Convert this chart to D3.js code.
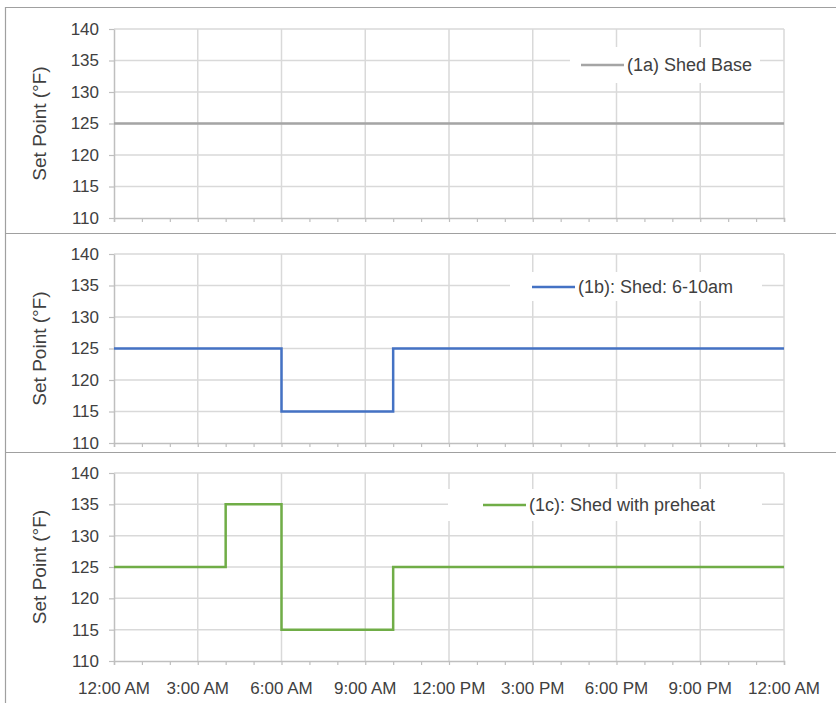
<!DOCTYPE html>
<html>
<head>
<meta charset="utf-8">
<script src="https://cdn.jsdelivr.net/npm/d3@7/dist/d3.min.js"></script>
<style>
  html, body { margin: 0; padding: 0; background: #fff; }
  svg { display: block; }
  text { font-family: "Liberation Sans", Arial, sans-serif; fill: #404040; }
</style>
</head>
<body>
<svg id="chart" width="836" height="703"></svg>
<script>
// Set point schedules (hour of day -> °F), stepwise
const hours = [0, 4, 6, 10, 24];
const shedBase = [125, 125, 125, 125, 125];
const shed610 = [125, 125, 115, 125, 125];
const shedPreheat = [125, 135, 115, 125, 125];

const seriesNames = ["(1a) Shed Base", "(1b): Shed: 6-10am", "(1c): Shed with preheat"];
const seriesColors = ["#a5a5a5", "#4472c4", "#70ad47"];

const yTicks = [110, 115, 120, 125, 130, 135, 140];
const xTickHours = [0, 3, 6, 9, 12, 15, 18, 21, 24];
const xTickLabels = ["12:00 AM", "3:00 AM", "6:00 AM", "9:00 AM", "12:00 PM", "3:00 PM", "6:00 PM", "9:00 PM", "12:00 AM"];
const yTitle = "Set Point (°F)";

const svg = d3.select("#chart");
svg.append("rect").attr("width", 836).attr("height", 703).attr("fill", "#fff");

const x = d3.scaleLinear().domain([0, 24]).range([114, 784]);

// Panel vertical extents and legend boxes
const panels = [
  { top: 29, bottom: 218, values: shedBase, legend: { x0: 570, x1: 760, y0: 47, y1: 83, lx: 581, ly: 65 }, sepTop: 7 },
  { top: 254, bottom: 443, values: shed610, legend: { x0: 510, x1: 762, y0: 272, y1: 301, lx: 532, ly: 287 }, sepTop: 233 },
  { top: 473, bottom: 661, values: shedPreheat, legend: { x0: 448, x1: 762, y0: 489, y1: 521, lx: 483, ly: 505 }, sepTop: 452 }
];

// Outer frame: left edge and panel separators
svg.append("line").attr("x1", 5.5).attr("x2", 5.5).attr("y1", 7).attr("y2", 703)
  .attr("stroke", "#a0a0a0").attr("stroke-width", 1.2);
panels.forEach(p => {
  svg.append("line").attr("x1", 5).attr("x2", 836).attr("y1", p.sepTop + 0.5).attr("y2", p.sepTop + 0.5)
    .attr("stroke", "#a0a0a0").attr("stroke-width", 1.2);
});

panels.forEach((p, i) => {
  const y = d3.scaleLinear().domain([110, 140]).range([p.bottom, p.top]);
  const g = svg.append("g");

  // gridlines
  g.append("g").selectAll("line").data(yTicks.slice(1)).join("line")
    .attr("x1", x(0)).attr("x2", x(24))
    .attr("y1", d => y(d)).attr("y2", d => y(d))
    .attr("stroke", "#d9d9d9").attr("stroke-width", 1.5);
  g.append("g").selectAll("line").data(xTickHours.slice(1)).join("line")
    .attr("x1", d => x(d)).attr("x2", d => x(d))
    .attr("y1", y(140)).attr("y2", y(110))
    .attr("stroke", "#d9d9d9").attr("stroke-width", 1.5);

  // x axis with hourly minor ticks
  const xAxis = d3.axisBottom(x).tickValues(d3.range(0, 25, 1)).tickSize(4).tickFormat("");
  const xa = g.append("g").attr("transform", `translate(0,${y(110)})`).call(xAxis);
  xa.select(".domain").attr("stroke", "#bfbfbf").attr("stroke-width", 1.5);
  xa.selectAll(".tick line").attr("stroke", "#bfbfbf").attr("stroke-width", 1.2);

  // y axis
  const yAxis = d3.axisLeft(y).tickValues(yTicks).tickSize(5).tickSizeOuter(0).tickPadding(10);
  const ya = g.append("g").attr("transform", `translate(${x(0)},0)`).call(yAxis);
  ya.select(".domain").attr("stroke", "#bfbfbf").attr("stroke-width", 1.5);
  ya.selectAll(".tick text").attr("font-size", 17).attr("fill", "#404040")
    .attr("font-family", "Liberation Sans, Arial, sans-serif");
  ya.selectAll(".tick line").attr("stroke", "#bfbfbf").attr("stroke-width", 1.2);

  // y title
  g.append("text")
    .attr("transform", `translate(46,${(p.top + p.bottom) / 2}) rotate(-90)`)
    .attr("text-anchor", "middle").attr("font-size", 19).text(yTitle);

  // legend box (white, interrupts gridlines)
  const L = p.legend;
  g.append("rect").attr("x", L.x0).attr("y", L.y0).attr("width", L.x1 - L.x0).attr("height", L.y1 - L.y0)
    .attr("fill", "#fff");
  g.append("line").attr("x1", L.lx).attr("x2", L.lx + 43).attr("y1", L.ly).attr("y2", L.ly)
    .attr("stroke", seriesColors[i]).attr("stroke-width", 2.5);
  g.append("text").attr("x", L.lx + 46).attr("y", L.ly).attr("dy", "0.35em")
    .attr("font-size", 18).text(seriesNames[i]);

  // series step line
  const line = d3.line().x((d, k) => x(hours[k])).y(d => y(d)).curve(d3.curveStepAfter);
  g.append("path").datum(p.values).attr("d", line)
    .attr("fill", "none").attr("stroke", seriesColors[i]).attr("stroke-width", 2.5);

  // category labels on the bottom panel
  if (i === 2) {
    g.append("g").selectAll("text").data(xTickHours).join("text")
      .attr("x", d => x(d)).attr("y", y(110) + 27).attr("dy", "0.35em")
      .attr("text-anchor", "middle").attr("font-size", 17)
      .text((d, k) => xTickLabels[k]);
  }
});
</script>
</body>
</html>
